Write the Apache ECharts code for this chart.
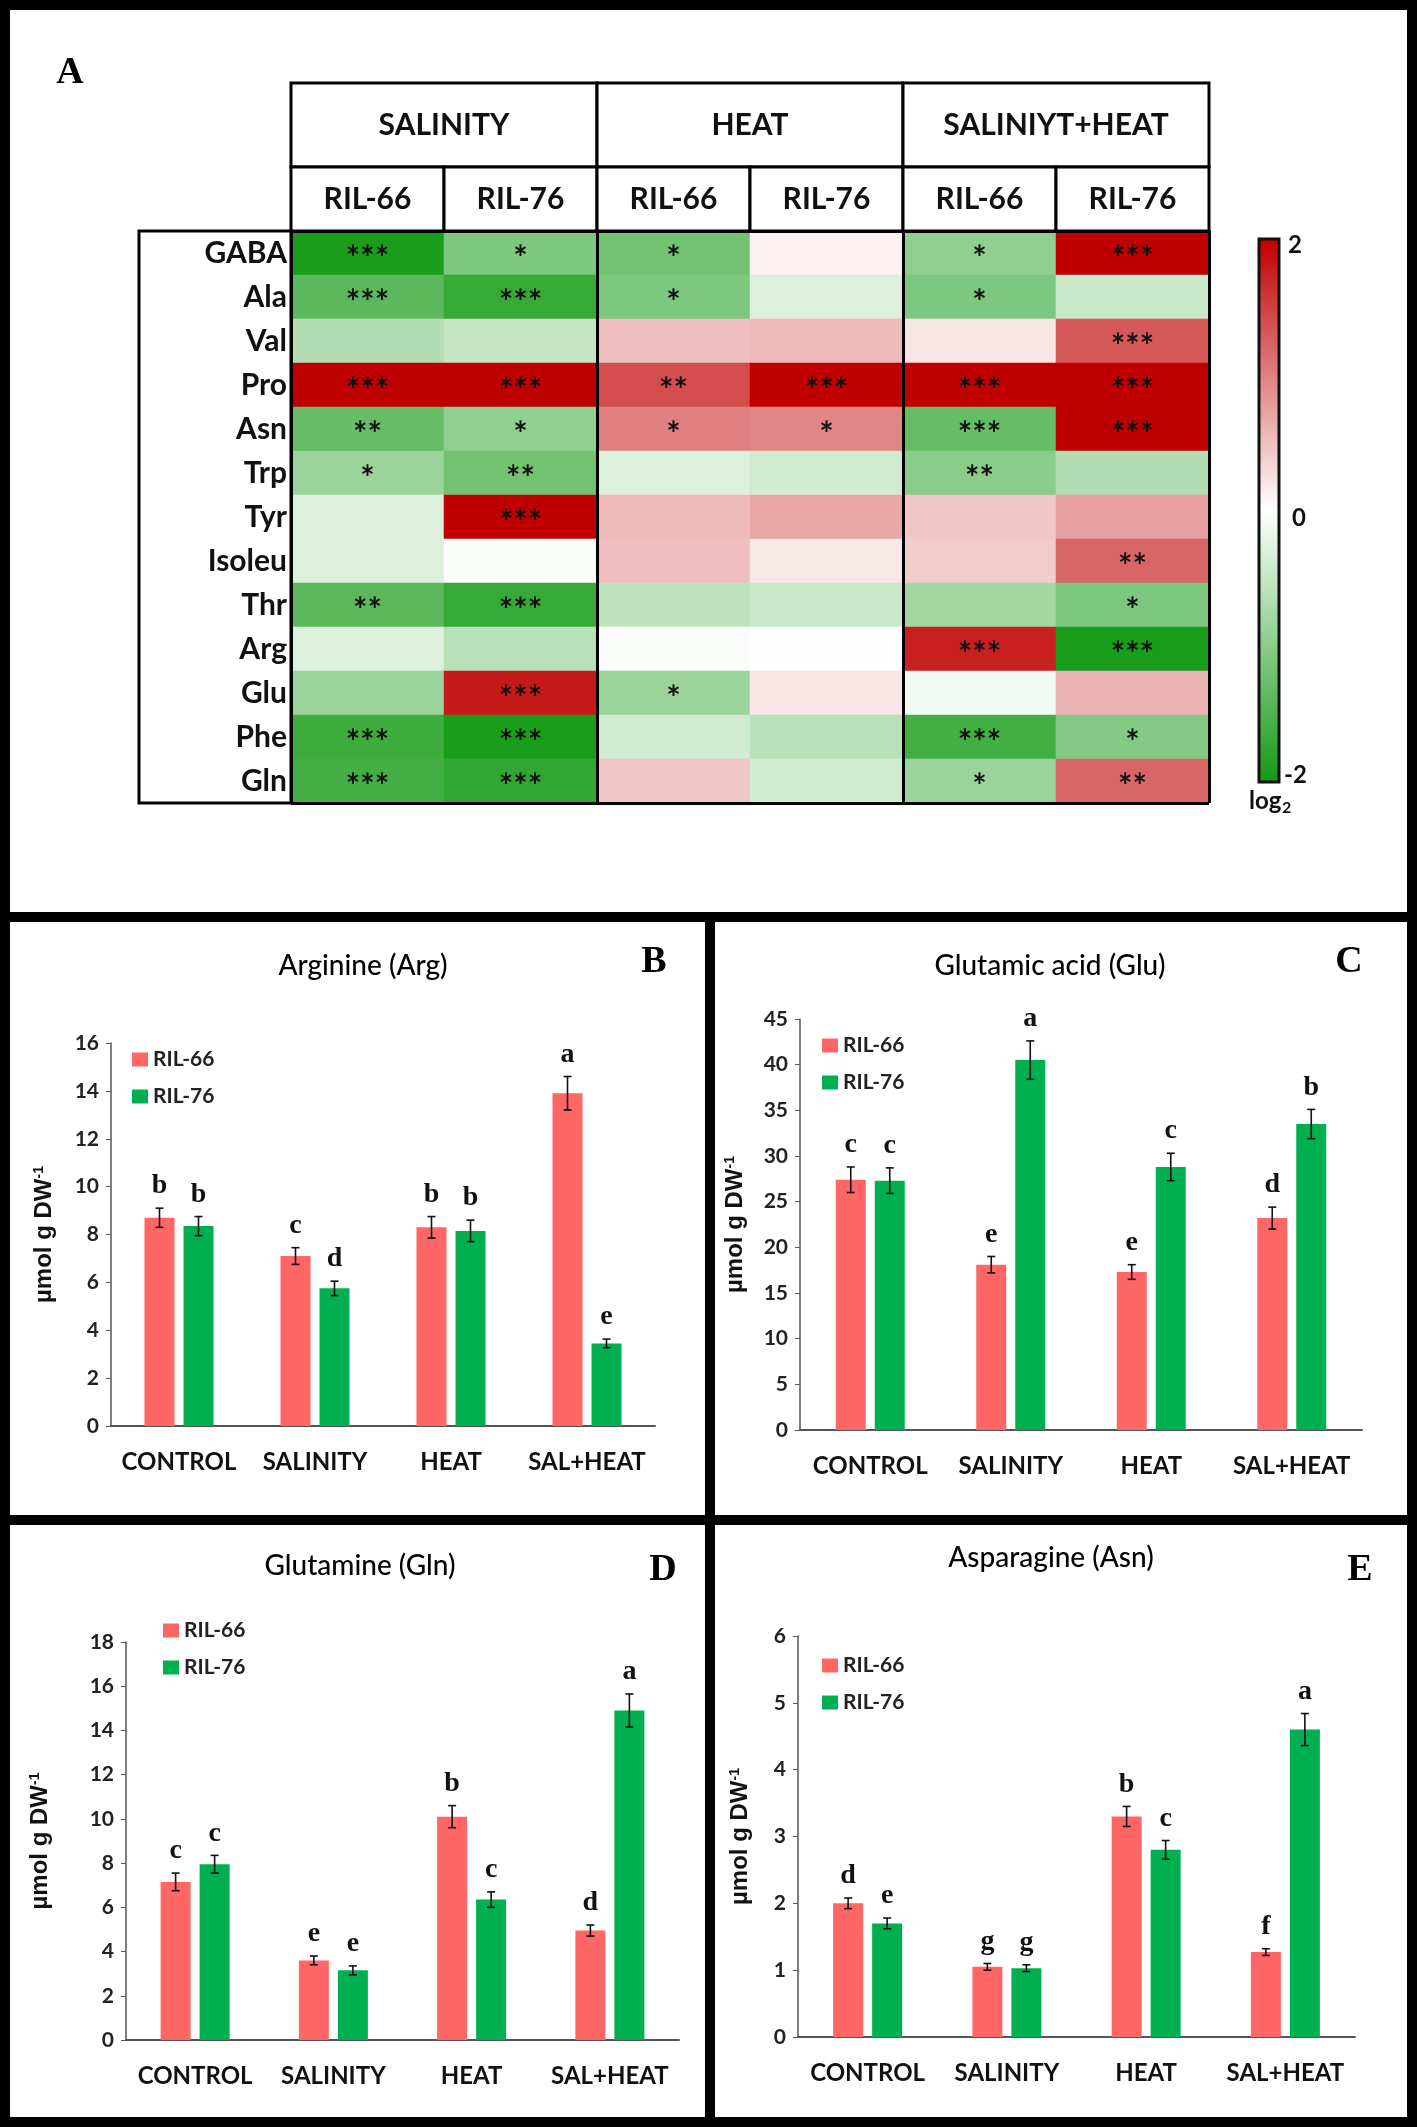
<!DOCTYPE html>
<html>
<head>
<meta charset="utf-8">
<script src="https://cdn.jsdelivr.net/npm/echarts@6/dist/echarts.min.js"></script>
<style>
  body { margin: 0; background: #fff; }
  #main { width: 1417px; height: 2127px; }
</style>
</head>
<body>
<div id="main"></div>
<script>
// ---- panel A : heat map (log2 fold change vs control) ----
var aminoAcids = ['GABA', 'Ala', 'Val', 'Pro', 'Asn', 'Trp', 'Tyr', 'Isoleu', 'Thr', 'Arg', 'Glu', 'Phe', 'Gln'];
var treatments = ['SALINITY', 'HEAT', 'SALINIYT+HEAT'];
var lines = ['RIL-66', 'RIL-76'];
// columns: SAL-66, SAL-76, HEAT-66, HEAT-76, SAL+HEAT-66, SAL+HEAT-76
var log2Change = [
  [-1.95, -1.1, -1.2, 0.1, -0.95, 2.0],
  [-1.4, -1.7, -1.1, -0.3, -1.1, -0.45],
  [-0.65, -0.5, 0.5, 0.55, 0.2, 1.3],
  [2.0, 2.0, 1.4, 2.0, 2.0, 2.0],
  [-1.3, -0.95, 1.0, 0.95, -1.3, 2.0],
  [-0.85, -1.2, -0.3, -0.4, -1.0, -0.65],
  [-0.3, 2.0, 0.55, 0.7, 0.45, 0.75],
  [-0.3, -0.05, 0.5, 0.18, 0.4, 1.2],
  [-1.4, -1.7, -0.55, -0.45, -0.8, -1.1],
  [-0.3, -0.6, -0.03, -0.02, 1.75, -1.95],
  [-0.85, 1.8, -0.85, 0.2, -0.1, 0.6],
  [-1.65, -1.95, -0.4, -0.6, -1.6, -1.05],
  [-1.6, -1.75, 0.45, -0.4, -0.85, 1.2]
];
var stars = [
  ['***', '*', '*', '', '*', '***'],
  ['***', '***', '*', '', '*', ''],
  ['', '', '', '', '', '***'],
  ['***', '***', '**', '***', '***', '***'],
  ['**', '*', '*', '*', '***', '***'],
  ['*', '**', '', '', '**', ''],
  ['', '***', '', '', '', ''],
  ['', '', '', '', '', '**'],
  ['**', '***', '', '', '', '*'],
  ['', '', '', '', '***', '***'],
  ['', '***', '*', '', '', ''],
  ['***', '***', '', '', '***', '*'],
  ['***', '***', '', '', '*', '**']
];

// ---- panels B-E : bar charts ----
var conditions = ['CONTROL', 'SALINITY', 'HEAT', 'SAL+HEAT'];

var argMean66 = [8.7, 7.1, 8.3, 13.9];
var argMean76 = [8.35, 5.75, 8.15, 3.45];
var argErr66 = [0.4, 0.35, 0.45, 0.7];
var argErr76 = [0.4, 0.3, 0.45, 0.18];
var argSig66 = ['b', 'c', 'b', 'a'];
var argSig76 = ['b', 'd', 'b', 'e'];

var gluMean66 = [27.4, 18.1, 17.3, 23.2];
var gluMean76 = [27.3, 40.5, 28.8, 33.5];
var gluErr66 = [1.4, 0.9, 0.8, 1.2];
var gluErr76 = [1.4, 2.1, 1.5, 1.6];
var gluSig66 = ['c', 'e', 'e', 'd'];
var gluSig76 = ['c', 'a', 'c', 'b'];

var glnMean66 = [7.15, 3.6, 10.1, 4.95];
var glnMean76 = [7.95, 3.15, 6.35, 14.9];
var glnErr66 = [0.4, 0.2, 0.5, 0.25];
var glnErr76 = [0.4, 0.2, 0.35, 0.75];
var glnSig66 = ['c', 'e', 'b', 'd'];
var glnSig76 = ['c', 'e', 'c', 'a'];

var asnMean66 = [2.0, 1.05, 3.3, 1.27];
var asnMean76 = [1.7, 1.03, 2.8, 4.6];
var asnErr66 = [0.08, 0.05, 0.15, 0.05];
var asnErr76 = [0.08, 0.05, 0.14, 0.24];
var asnSig66 = ['d', 'g', 'b', 'f'];
var asnSig76 = ['e', 'g', 'c', 'a'];

var yMax = [16, 45, 18, 6];
var yStep = [2, 5, 2, 1];

var chart = echarts.init(document.getElementById('main'));

var SANS = 'Lato';
var SERIF = 'Liberation Serif';
var RED = '#ff6666';
var GREEN = '#00b050';

// heat map cells
var heatData = [];
for (var r = 0; r < aminoAcids.length; r++) {
  for (var c = 0; c < 6; c++) {
    heatData.push([c, r, log2Change[r][c], stars[r][c]]);
  }
}
var colNames = [];
for (var c2 = 0; c2 < 6; c2++) colNames.push('c' + c2);

// header cells
var groupCells = [], groupText = [];
var subCells = [], subText = [];
treatments.forEach(function (t, g) {
  groupCells.push([2 * g, 2 * g + 2, 0, 1]);
  groupText.push(t);
  lines.forEach(function (l, k) {
    subCells.push([2 * g + k, 2 * g + k + 1, 0, 1]);
    subText.push(l);
  });
});

function headerRender(texts) {
  return function (params, api) {
    var p0 = api.coord([api.value(0), 1]);
    var p1 = api.coord([api.value(1), 0]);
    return {
      type: 'group',
      children: [{
        type: 'rect',
        shape: { x: p0[0], y: p0[1], width: p1[0] - p0[0], height: p1[1] - p0[1] },
        style: { fill: '#fff', stroke: '#000', lineWidth: 3 }
      }, {
        type: 'text',
        style: {
          text: texts[params.dataIndex],
          x: (p0[0] + p1[0]) / 2, y: (p0[1] + p1[1]) / 2,
          align: 'center', verticalAlign: 'middle',
          font: 'bold 30px ' + SANS, fill: '#111'
        }
      }]
    };
  };
}

// error bar + significance letter
var half = 19.5;
function errRender(offset, letters) {
  return function (params, api) {
    var x = api.value(0), v = api.value(1), e = api.value(2);
    var hi = api.coord([x, v + e]);
    var lo = api.coord([x, v - e]);
    var cx = hi[0] + offset;
    var ls = { stroke: '#111', lineWidth: 1.6 };
    return {
      type: 'group',
      children: [
        { type: 'line', shape: { x1: cx, y1: hi[1], x2: cx, y2: lo[1] }, style: ls },
        { type: 'line', shape: { x1: cx - 4, y1: hi[1], x2: cx + 4, y2: hi[1] }, style: ls },
        { type: 'line', shape: { x1: cx - 4, y1: lo[1], x2: cx + 4, y2: lo[1] }, style: ls },
        { type: 'text', style: { text: letters[params.dataIndex], x: cx, y: hi[1] - 8,
          align: 'center', verticalAlign: 'bottom', font: 'bold 28px ' + SERIF, fill: '#111' } }
      ]
    };
  };
}

var panels = [
  { title: 'Arginine (Arg)', tag: 'B', m66: argMean66, m76: argMean76, e66: argErr66, e76: argErr76, s66: argSig66, s76: argSig76 },
  { title: 'Glutamic acid (Glu)', tag: 'C', m66: gluMean66, m76: gluMean76, e66: gluErr66, e76: gluErr76, s66: gluSig66, s76: gluSig76 },
  { title: 'Glutamine (Gln)', tag: 'D', m66: glnMean66, m76: glnMean76, e66: glnErr66, e76: glnErr76, s66: glnSig66, s76: glnSig76 },
  { title: 'Asparagine (Asn)', tag: 'E', m66: asnMean66, m76: asnMean76, e66: asnErr66, e76: asnErr76, s66: asnSig66, s76: asnSig76 }
];
// layout for each bar panel
var barGrids = [
  { left: 111, top: 1043, width: 544, height: 383 },
  { left: 800, top: 1019, width: 562, height: 411 },
  { left: 126, top: 1642, width: 553, height: 398 },
  { left: 798, top: 1636, width: 557, height: 401 }
];
var nameGaps = [55, 53, 74, 46];
var legendPos = [[132, 1049], [822, 1035], [163, 1620], [822, 1655]];
var titlePos = [[363, 966], [1050, 966], [360, 1566], [1051, 1558]];
var tagPos = [[654, 962], [1349, 962], [663, 1570], [1360, 1570]];

var grids = [
  { left: 291, top: 231, width: 918, height: 572 },
  { left: 291, top: 83, width: 918, height: 84 },
  { left: 291, top: 167, width: 918, height: 64 }
].concat(barGrids).map(function (g) {
  g.containLabel = false;
  g.outerBoundsMode = 'none';
  return g;
});

var xAxes = [
  { type: 'category', gridIndex: 0, data: colNames, show: false },
  { type: 'value', gridIndex: 0, min: 0, max: 6, interval: 2, z: 10,
    axisLine: { show: false }, axisTick: { show: false }, axisLabel: { show: false },
    splitLine: { show: true, lineStyle: { color: '#000', width: 3 } } },
  { type: 'value', gridIndex: 1, min: 0, max: 6, show: false },
  { type: 'value', gridIndex: 2, min: 0, max: 6, show: false }
];
var yAxes = [
  { type: 'category', gridIndex: 0, data: aminoAcids, inverse: true,
    axisLine: { show: false }, axisTick: { show: false }, splitLine: { show: false },
    axisLabel: { margin: 4, fontSize: 30, fontWeight: 'bold', fontFamily: SANS, color: '#111' } },
  { type: 'value', gridIndex: 0, min: 0, max: 13, interval: 13, z: 10,
    axisLine: { show: false }, axisTick: { show: false }, axisLabel: { show: false },
    splitLine: { show: true, lineStyle: { color: '#000', width: 3 } } },
  { type: 'value', gridIndex: 1, min: 0, max: 1, show: false },
  { type: 'value', gridIndex: 2, min: 0, max: 1, show: false }
];

var series = [{
  type: 'heatmap',
  xAxisIndex: 0, yAxisIndex: 0,
  data: heatData,
  itemStyle: { borderWidth: 0 },
  emphasis: { disabled: true },
  label: {
    show: true,
    formatter: function (p) { return p.data[3]; },
    fontSize: 34, fontWeight: 'bold', fontFamily: SANS, color: '#111', offset: [0, 6]
  }
}, {
  type: 'custom', xAxisIndex: 2, yAxisIndex: 2,
  data: groupCells, encode: { x: [0, 1], y: [2, 3] },
  renderItem: headerRender(groupText), silent: true
}, {
  type: 'custom', xAxisIndex: 3, yAxisIndex: 3,
  data: subCells, encode: { x: [0, 1], y: [2, 3] },
  renderItem: headerRender(subText), silent: true
}];

var legends = [];
var graphics = [];

panels.forEach(function (p, i) {
  var ax = 4 + i;
  xAxes.push({
    type: 'category', gridIndex: 3 + i, data: conditions,
    axisLine: { lineStyle: { color: '#555', width: 2 } },
    axisTick: { show: false },
    axisLabel: { interval: 0, margin: 24, fontSize: 24, fontWeight: 'bold', fontFamily: SANS, color: '#111' }
  });
  yAxes.push({
    type: 'value', gridIndex: 3 + i, min: 0, max: yMax[i], interval: yStep[i],
    name: '{m|µmol g DW}{s|-1}', nameLocation: 'middle', nameGap: nameGaps[i],
    nameTextStyle: {
      rich: {
        m: { fontSize: 24, fontWeight: 'bold', fontFamily: 'Liberation Sans', color: '#111' },
        s: { fontSize: 14, fontWeight: 'bold', fontFamily: 'Liberation Sans', color: '#111', verticalAlign: 'top' }
      }
    },
    axisLine: { show: true, lineStyle: { color: '#555', width: 1.5 } },
    axisTick: { show: true, inside: false, length: 5, lineStyle: { color: '#555' } },
    splitLine: { show: false },
    axisLabel: { margin: 12, fontSize: 21, fontWeight: 'bold', fontFamily: SANS, color: '#222' }
  });
  var d66 = p.m66.map(function (v, k) { return [k, v, p.e66[k]]; });
  var d76 = p.m76.map(function (v, k) { return [k, v, p.e76[k]]; });
  series.push(
    { type: 'bar', name: 'RIL-66', xAxisIndex: ax, yAxisIndex: ax, data: p.m66,
      barWidth: 30, barGap: '30%', itemStyle: { color: RED }, silent: true },
    { type: 'bar', name: 'RIL-76', xAxisIndex: ax, yAxisIndex: ax, data: p.m76,
      barWidth: 30, barGap: '30%', itemStyle: { color: GREEN }, silent: true },
    { type: 'custom', name: 'err66-' + i, xAxisIndex: ax, yAxisIndex: ax, data: d66,
      encode: { x: 0, y: 1 }, renderItem: errRender(-half, p.s66), silent: true, z: 5 },
    { type: 'custom', name: 'err76-' + i, xAxisIndex: ax, yAxisIndex: ax, data: d76,
      encode: { x: 0, y: 1 }, renderItem: errRender(half, p.s76), silent: true, z: 5 }
  );
  legends.push({
    data: ['RIL-66', 'RIL-76'], orient: 'vertical',
    left: legendPos[i][0], top: legendPos[i][1], padding: 0,
    icon: 'rect', itemWidth: 16, itemHeight: 14, itemGap: 16, selectedMode: false,
    textStyle: { fontSize: 21, fontWeight: 'bold', fontFamily: SANS, color: '#222' }
  });
  graphics.push({
    type: 'text', style: { text: p.title, x: titlePos[i][0], y: titlePos[i][1],
      align: 'center', verticalAlign: 'middle', font: '500 28px ' + SANS, fill: '#000' }
  }, {
    type: 'text', style: { text: p.tag, x: tagPos[i][0], y: tagPos[i][1],
      align: 'center', verticalAlign: 'middle', font: 'bold 38px ' + SERIF, fill: '#000' }
  });
});

// frames, row-label box, colour bar decorations
var frame = { fill: 'none', stroke: '#000', lineWidth: 10 };
graphics.push(
  { type: 'rect', shape: { x: 5, y: 5, width: 1407, height: 912 }, style: frame, z: 50 },
  { type: 'rect', shape: { x: 5, y: 917, width: 705, height: 603 }, style: frame, z: 50 },
  { type: 'rect', shape: { x: 710, y: 917, width: 702, height: 603 }, style: frame, z: 50 },
  { type: 'rect', shape: { x: 5, y: 1520, width: 705, height: 602 }, style: frame, z: 50 },
  { type: 'rect', shape: { x: 710, y: 1520, width: 702, height: 602 }, style: frame, z: 50 },
  { type: 'rect', shape: { x: 139, y: 231, width: 152, height: 572 },
    style: { fill: 'none', stroke: '#000', lineWidth: 3 }, z: 50 },
  { type: 'rect', shape: { x: 1259, y: 239, width: 20, height: 543 },
    style: { fill: 'none', stroke: '#111', lineWidth: 3 }, z: 50 },
  { type: 'text', style: { text: 'A', x: 70, y: 73, align: 'center', verticalAlign: 'middle',
    font: 'bold 38px ' + SERIF, fill: '#000' } },
  { type: 'text', style: { text: '2', x: 1288, y: 245, align: 'left', verticalAlign: 'middle',
    font: 'bold 24px ' + SANS, fill: '#111' } },
  { type: 'text', style: { text: '0', x: 1292, y: 518, align: 'left', verticalAlign: 'middle',
    font: 'bold 24px ' + SANS, fill: '#111' } },
  { type: 'text', style: { text: '-2', x: 1284, y: 775, align: 'left', verticalAlign: 'middle',
    font: 'bold 24px ' + SANS, fill: '#111' } },
  { type: 'text', style: { text: 'log', x: 1249, y: 801, align: 'left', verticalAlign: 'middle',
    font: 'bold 24px ' + SANS, fill: '#111' } },
  { type: 'text', style: { text: '2', x: 1282, y: 808, align: 'left', verticalAlign: 'middle',
    font: 'bold 16px ' + SANS, fill: '#111' } }
);

var option = {
  backgroundColor: '#fff',
  animation: false,
  grid: grids,
  xAxis: xAxes,
  yAxis: yAxes,
  legend: legends,
  visualMap: {
    type: 'continuous', min: -2, max: 2, seriesIndex: 0, dimension: 2,
    orient: 'vertical', left: 1259, top: 239, padding: 0,
    itemWidth: 20, itemHeight: 543, calculable: false, hoverLink: false,
    inRange: { color: ['#149a14', '#ffffff', '#c00000'] }
  },
  graphic: graphics,
  series: series
};

chart.setOption(option);
</script>
</body>
</html>
